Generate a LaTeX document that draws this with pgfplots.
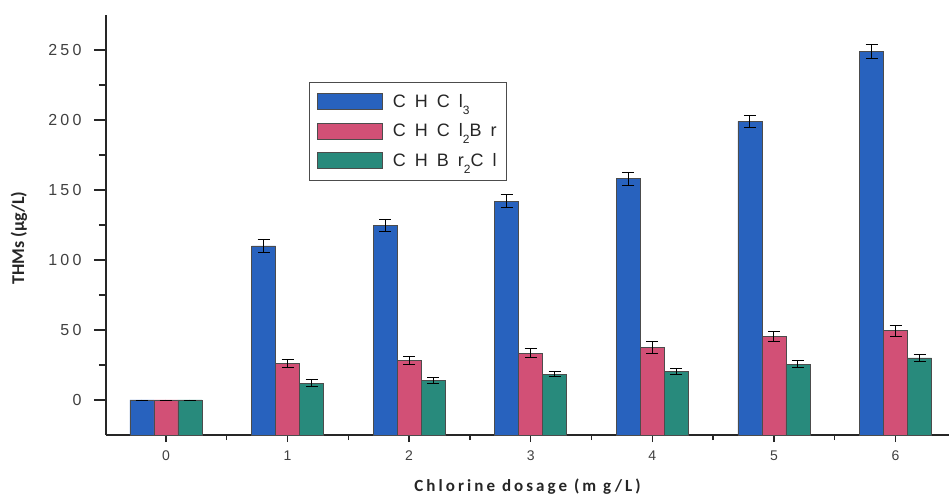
\documentclass[border=0pt]{standalone}
\usepackage{pgfplots}
\pgfplotsset{compat=1.18}
\usepackage{pgfplotstable}
\usepackage{fontspec}
\setmainfont{Liberation Sans}
\newfontfamily\labfont{Carlito}

\definecolor{cblue}{RGB}{40,98,190}
\definecolor{cpink}{RGB}{210,80,118}
\definecolor{cteal}{RGB}{40,138,124}

\pgfplotstableread{
x y e
0 0 0
1 110 4.5
2 124.5 4.5
3 142 4.5
4 158 4.5
5 199 4.5
6 249 5
}\tA
\pgfplotstableread{
x y e
0 0 0
1 26 3
2 28 3
3 33.5 3
4 37.5 4
5 45.5 3.5
6 49.5 4
}\tB
\pgfplotstableread{
x y e
0 0 0
1 12 2.5
2 14 2
3 18.5 2
4 20.5 2
5 25.5 2.5
6 30 2.5
}\tC

\newcommand{\sub}[1]{\raisebox{-7pt}{\fontsize{12}{12}\selectfont #1}}

\begin{document}
\begin{tikzpicture}
% the y axis is shifted by +25 so that bars rise from its bottom (value -25)
\begin{axis}[
  scale only axis, width=843pt, height=420pt,
  xmin=-0.493, xmax=6.44, ymin=0, ymax=300,
  axis x line*=bottom, axis y line*=left,
  axis line style={line width=1.6pt, black!85},
  ybar, bar width=24pt,
  xtick={0,...,6}, minor xtick={0.5,1.5,...,5.5},
  ytick={25,75,125,175,225,275}, yticklabels={0,50,100,150,200,250},
  minor ytick={50,100,150,200,250},
  tick align=outside,
  major tick length=12pt, minor tick length=7pt,
  every tick/.style={line width=1.4pt, black!85},
  xtick style={/pgfplots/major tick length=7pt, /pgfplots/minor tick length=5pt},
  /pgf/number format/assume math mode=true,
  yticklabel style={font=\fontsize{16}{16}\selectfont\addfontfeature{LetterSpace=20}, text=black!75, xshift=-9pt},
  xticklabel style={font=\fontsize{14}{14}\selectfont, text=black!75},
  xlabel={\labfont\bfseries\addfontfeature{LetterSpace=18}Chlorine dosage (m g/L)},
  xlabel style={at={(axis description cs:0.5,0)}, anchor=center, yshift=-52pt, font=\fontsize{17}{17}\selectfont, text=black!85},
  ylabel={\labfont\bfseries THMs (\textmu g/L)},
  ylabel style={at={(axis description cs:0,0.469)}, anchor=center, yshift=87pt, font=\fontsize{18}{18}\selectfont, text=black!85},
  legend style={at={(rel axis cs:0.2408,0.8405)}, anchor=north west,
    draw=black!70, line width=0.8pt,
    font=\fontsize{18}{18}\selectfont\addfontfeature{LetterSpace=50},
    text=black!85, row sep=11pt, inner xsep=8pt, inner ysep=10pt,
    /tikz/every odd column/.append style={column sep=8pt}},
  legend cell align=left,
  legend image code/.code={\draw[#1, line width=0.6pt] (0pt,-8pt) rectangle (65pt,8pt);},
  error bars/y dir=both, error bars/y explicit,
  error bars/error bar style={line width=1pt, black},
  error bars/error mark options={rotate=90, mark size=6pt, line width=1pt, black},
]
\addplot[fill=cblue, draw=black!70, line width=0.7pt, bar shift=-24pt]
  table[x=x, y expr=\thisrow{y}+25, y error=e]{\tA};
\addlegendentry{CHCl\sub{3}}
\addplot[fill=cpink, draw=black!70, line width=0.7pt, bar shift=0pt]
  table[x=x, y expr=\thisrow{y}+25, y error=e]{\tB};
\addlegendentry{CHCl\sub{2}Br}
\addplot[fill=cteal, draw=black!70, line width=0.7pt, bar shift=24pt]
  table[x=x, y expr=\thisrow{y}+25, y error=e]{\tC};
\addlegendentry{CHBr\sub{2}Cl}
\end{axis}
\pgfresetboundingbox
\path[use as bounding box] ([shift={(-106pt,-62pt)}]current axis.south west) rectangle ++(949pt,497pt);
\end{tikzpicture}
\end{document}
